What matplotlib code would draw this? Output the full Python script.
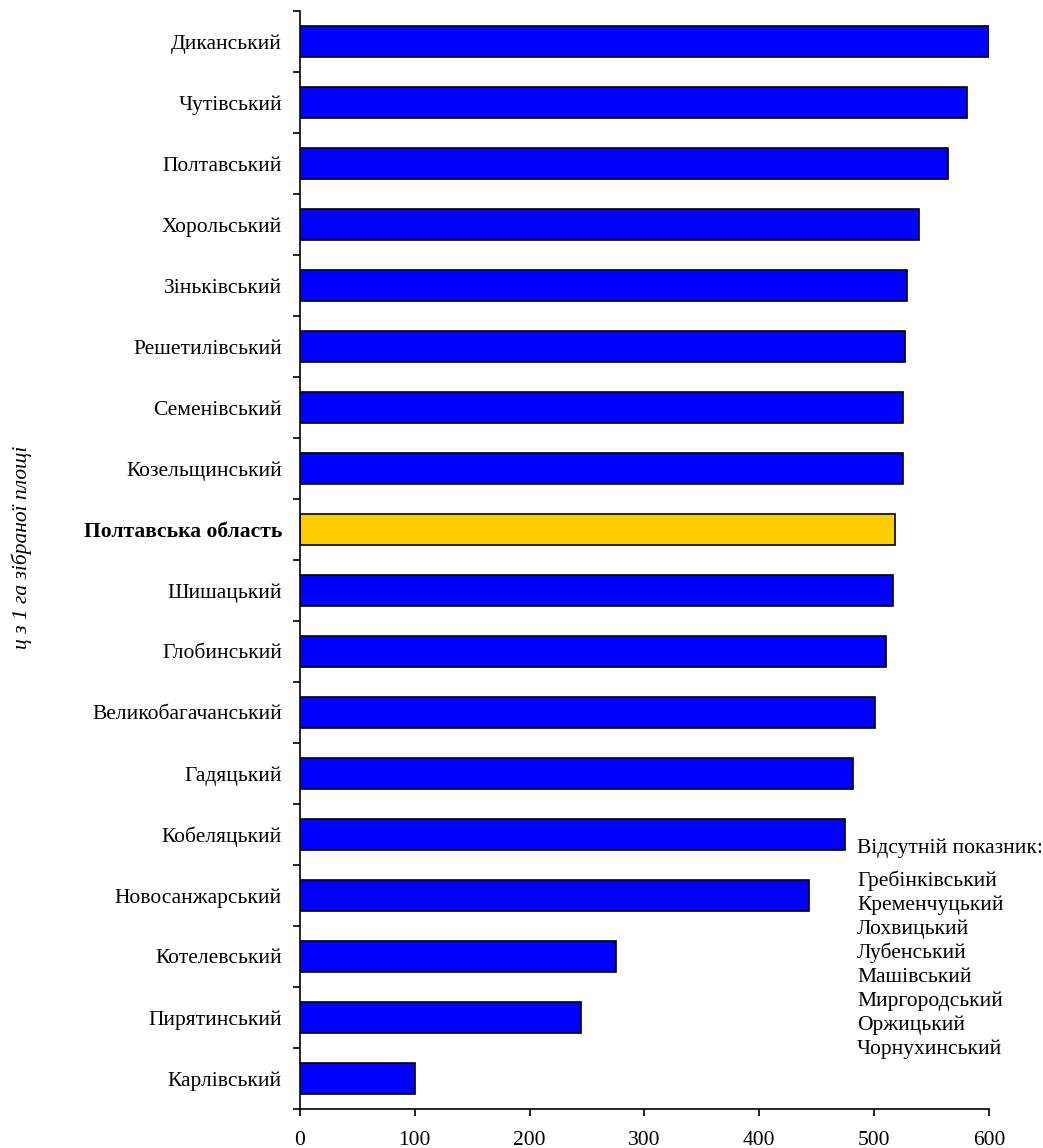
import numpy as np
import matplotlib
matplotlib.use("Agg")
import matplotlib.pyplot as plt

plt.rcParams['font.family'] = ['Liberation Serif', 'DejaVu Serif']

# districts from top to bottom
districts = ["Диканський", "Чутівський", "Полтавський", "Хорольський",
             "Зіньківський", "Решетилівський", "Семенівський", "Козельщинський",
             "Полтавська область", "Шишацький", "Глобинський",
             "Великобагачанський", "Гадяцький", "Кобеляцький",
             "Новосанжарський", "Котелевський", "Пирятинський", "Карлівський"]
values = [600, 581, 564, 539, 529, 527, 525, 525, 518, 516, 510, 501,
          482, 475, 443, 275, 245, 100]
region_name = "Полтавська область"

missing_title = "Відсутній показник:"
missing = ["Гребінківський", "Кременчуцький", "Лохвицький", "Лубенський",
           "Машівський", "Миргородський", "Оржицький", "Чорнухинський"]

xticks = [0, 100, 200, 300, 400, 500, 600]
ylabel = "ц з 1 га зібраної площі"

fs = 15.5
fig = plt.figure(figsize=(10.43, 11.48), dpi=100)
ax = fig.add_axes([0.2876, 0.034, 0.6606, 0.9564])

n = len(districts)
pos = np.arange(n)[::-1]
colors = ["#FFCC00" if d == region_name else "#0000FF" for d in districts]
ax.barh(pos, values, height=0.5, color=colors, edgecolor="black", linewidth=1.2)

ax.set_xlim(0, 600)
ax.set_ylim(-0.5, n - 0.5)
ax.set_xticks(xticks)
ax.set_xticklabels([str(t) for t in xticks], fontsize=fs)
ax.tick_params(axis="x", direction="out", length=5, width=1.2, pad=11)

ax.set_yticks(pos)
ax.set_yticklabels(districts, fontsize=fs)
ax.tick_params(axis="y", which="major", length=0, pad=13)
ax.set_yticks(np.arange(-0.5, n, 1.0), minor=True)
ax.tick_params(axis="y", which="minor", direction="out", length=5, width=1.2)
for lbl in ax.get_yticklabels():
    if lbl.get_text() == region_name:
        lbl.set_fontweight("bold")

for s in ["top", "right"]:
    ax.spines[s].set_visible(False)
ax.spines["left"].set_linewidth(1.2)
ax.spines["bottom"].set_linewidth(1.2)

fig.text(0.021, 0.523, ylabel, rotation=90, style="italic", fontsize=fs,
         ha="center", va="center")

tx = 857 / 1043
fig.text(tx, 1 - 848 / 1148, missing_title, fontsize=fs, ha="left", va="center")
for i, m in enumerate(missing):
    fig.text(tx, 1 - (881 + i * 24.0) / 1148, m, fontsize=fs,
             ha="left", va="center")

fig.savefig("out.png", dpi=100)
